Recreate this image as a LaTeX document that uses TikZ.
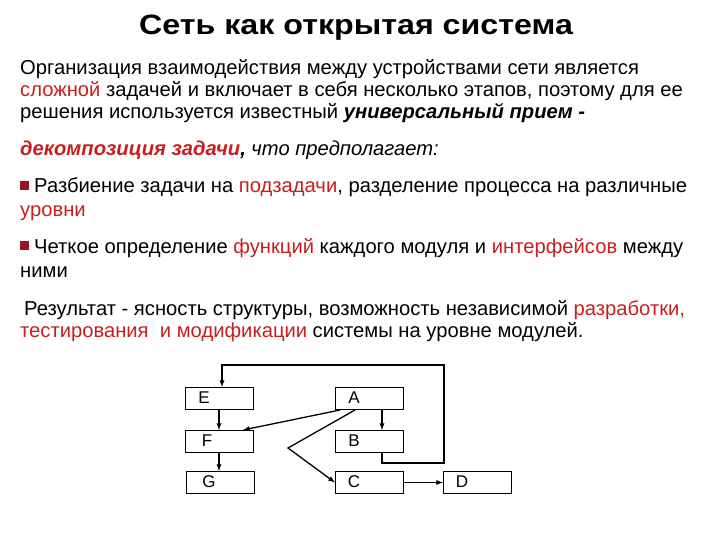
\documentclass[tikz,border=0pt]{standalone}
\usepackage{fontspec}
\setmainfont{Liberation Sans}
\definecolor{rd}{RGB}{200,30,30}
\definecolor{bul}{RGB}{150,20,40}
\begin{document}
\begin{tikzpicture}[x=1pt,y=-1pt,
  txt/.style={anchor=base west,inner sep=0pt,font=\fontsize{20.2}{22}\selectfont},
  bx/.style={draw,line width=1pt,minimum width=68pt,minimum height=22pt,anchor=north west,inner sep=0pt},
  lab/.style={font=\fontsize{17}{18}\selectfont},
  ar/.style={line width=1.3pt,-latex}]
\useasboundingbox (0,0) rectangle (720,540);
\node[anchor=base,inner sep=0pt,font=\fontsize{28}{30}\selectfont\bfseries,xscale=1.15] (t) at (356,35) {Сеть как открытая система};
\node[txt] (l1) at (20,75) {Организация взаимодействия между устройствами сети является};
\node[txt] (l2) at (20,97) {\textcolor{rd}{сложной} задачей и включает в себя несколько этапов, поэтому для ее};
\node[txt] (l3) at (20,119) {решения используется известный \textbf{\textit{универсальный прием -}}};
\node[txt] (l4) at (20,156) {\textit{\textbf{\textcolor{rd}{декомпозиция задачи}, }что предполагает:}};
\fill[bul] (20,181) rectangle (29,190);
\node[txt] (l5) at (34,193) {Разбиение задачи на \textcolor{rd}{подзадачи}, разделение процесса на различные};
\node[txt] (l6) at (20,216) {\textcolor{rd}{уровни}};
\fill[bul] (20,241) rectangle (29,250);
\node[txt] (l7) at (34,253) {Четкое определение \textcolor{rd}{функций} каждого модуля и \textcolor{rd}{интерфейсов} между};
\node[txt] (l8) at (20,277) {ними};
\node[txt] (l9) at (24,315) {Результат - ясность структуры, возможность независимой \textcolor{rd}{разработки,}};
\node[txt] (l10) at (20,337) {\textcolor{rd}{тестирования\ \ и модификации} системы на уровне модулей.};

\node[bx] (E) at (185,387) {};
\node[bx] (F) at (185,430) {};
\node[bx] (G) at (186,471) {};
\node[bx] (A) at (335,387) {};
\node[bx] (B) at (335,430) {};
\node[bx] (C) at (335,471) {};
\node[bx] (D) at (443,471) {};
\node[lab] at (204,398) {E};
\node[lab] at (207,441) {F};
\node[lab] at (209,482) {G};
\node[lab] at (354,398) {A};
\node[lab] at (354,441) {B};
\node[lab] at (354,482) {C};
\node[lab] at (462,482) {D};
\coordinate (k) at (288,448);
\draw[ar] (E.south -| 219,0) -- (F.north -| 219,0);
\draw[ar] (F.south -| 219,0) -- (G.north -| 219,0);
\draw[ar] (A.south -| 382,0) -- (B.north -| 382,0);
\draw[ar] (B.south -| 382,0) -- (382,463) -- (444,463) -- (444,365) -- (222,365) -- (E.north -| 222,0);
\draw[ar] (A.south -| 340,0) -- (243,430);
\draw[ar] (A.south -| 355,0) -- (k) -- (C.west);
\draw[ar] (C.east) -- (D.west);
\end{tikzpicture}
\end{document}
